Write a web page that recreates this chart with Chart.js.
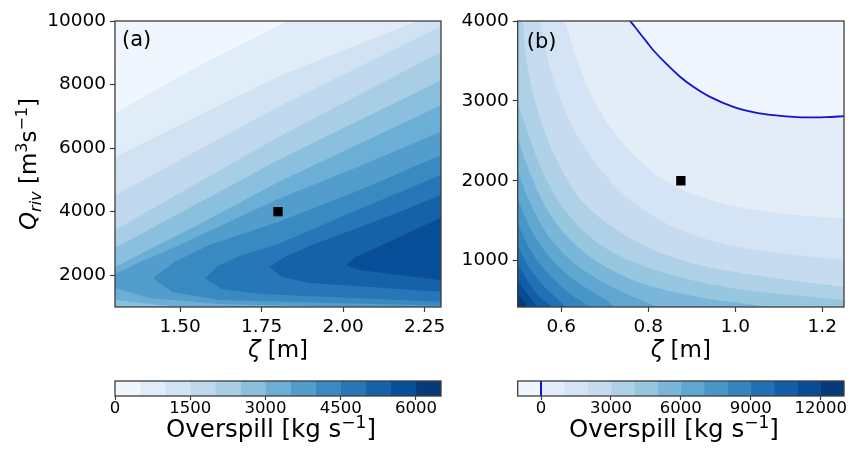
<!DOCTYPE html>
<html>
<head>
<meta charset="utf-8">
<script src="https://cdn.jsdelivr.net/npm/chart.js@4.4.1/dist/chart.umd.min.js"></script>
<style>
  html, body { margin: 0; padding: 0; background: #fff; }
  #wrap { position: relative; width: 857px; height: 455px; overflow: hidden; background: #fff; }
  canvas { position: absolute; }
</style>
</head>
<body>
<div id="wrap">
  <canvas id="plotA" width="450" height="375" style="left:0px;top:0px"></canvas>
  <canvas id="plotB" width="407" height="375" style="left:450px;top:0px"></canvas>
  <canvas id="barA" width="450" height="95" style="left:0px;top:360px"></canvas>
  <canvas id="barB" width="407" height="95" style="left:450px;top:360px"></canvas>
</div>
<script>
// ---- contour levels (kg s^-1) ----
const levelsA = [0, 500, 1000, 1500, 2000, 2500, 3000, 3500, 4000, 4500, 5000, 5500, 6000, 6500];
const levelsB = [-1000, 0, 1000, 2000, 3000, 4000, 5000, 6000, 7000, 8000, 9000, 10000, 11000, 12000, 13000];

// ---- axis ranges and ticks ----
const rangeA = { x: [1.3, 2.3], y: [1000, 10000] };
const rangeB = { x: [0.5, 1.25], y: [420, 4000] };
const xTicksA = [1.5, 1.75, 2.0, 2.25];
const yTicksA = [2000, 4000, 6000, 8000, 10000];
const xTicksB = [0.6, 0.8, 1.0, 1.2];
const yTicksB = [1000, 2000, 3000, 4000];
const cbTicksA = [0, 1500, 3000, 4500, 6000];
const cbTicksB = [0, 3000, 6000, 9000, 12000];

// ---- reference cases ----
const markerA = [1.8, 4000];
const markerB = [0.875, 2000];

// ---- panel (a): outlines of the areas where overspill >= level  [zeta, Q_riv] ----
const regionsA = [
  [500,  [[1.2,6520],[1.3,7100],[1.55,8550],[1.83,10000],[1.93,10600],[2.4,10600],[2.4,800],[1.2,800]]],
  [1000, [[1.2,5210],[1.3,5714],[1.8,8250],[2.3,10300],[2.4,10700],[2.4,800],[1.2,800]]],
  [1500, [[1.2,3960],[1.3,4520],[1.8,7290],[2.3,9833],[2.4,10300],[2.4,800],[1.2,800]]],
  [2000, [[1.2,2830],[1.3,3420],[1.8,6340],[2.3,9025],[2.4,9560],[2.4,800],[1.2,800]]],
  [2500, [[1.2,2300],[1.3,2854],[1.8,5620],[2.3,8136],[2.4,8640],[2.4,800],[1.2,800]]],
  [3000, [[1.2,1720],[1.3,2257],[1.56,3608],[1.8,4929],[2.3,7350],[2.4,7830],[2.4,800],[1.62,800],[1.56,937],[1.468,1031],[1.3,1220],[1.2,1330]]],
  [3500, [[1.26,1820],[1.3,2036],[1.377,2414],[1.484,2886],[1.799,4394],[2.05,5432],[2.298,6510],[2.4,6950],[2.4,900],[2.298,950],[1.621,1093],[1.407,1282],[1.3,1597],[1.26,1700]]],
  [4000, [[1.417,1911],[1.484,2424],[1.591,2959],[1.8,3675],[2.051,4681],[2.298,5777],[2.4,6220],[2.4,1040],[2.298,1046],[1.958,1124],[1.621,1218],[1.475,1470]]],
  [4500, [[1.576,1901],[1.615,2288],[1.683,2602],[1.799,2971],[2.019,3954],[2.298,5149],[2.4,5590],[2.4,1120],[2.298,1165],[1.958,1313],[1.744,1408],[1.628,1565]]],
  [5000, [[1.774,2266],[1.82,2571],[1.897,2917],[2.019,3388],[2.157,3923],[2.298,4520],[2.4,4950],[2.4,1420],[2.298,1480],[2.081,1628],[1.897,1754],[1.811,1942]]],
  [5500, [[2.009,2319],[2.038,2571],[2.087,2791],[2.172,3200],[2.298,3797],[2.4,4200],[2.4,1790],[2.298,1849],[2.172,2006],[2.05,2163]]]
];

// ---- panel (b): contour lines, overspill >= level lies below-left of each  [zeta, Q_riv] ----
const zeroLineB = [[0.7582,4000],[0.7697,3925],[0.7811,3843],[0.7966,3738],[0.8117,3634],[0.8425,3459],[0.8731,3302],[0.9037,3177],[0.9421,3050],[0.9956,2925],[1.0494,2850],[1.0876,2821],[1.1336,2800],[1.172,2793],[1.2103,2796],[1.2501,2809]];
const contoursB = [
  [0,     zeroLineB],
  [1000,  [[0.6034,4170],[0.608,4000],[0.6609,3170],[0.7299,2545],[0.8333,2020],[0.9598,1733],[1.0977,1595],[1.2494,1532],[1.2816,1520]]],
  [2000,  [[0.546,4170],[0.5506,4000],[0.5805,3295],[0.6264,2670],[0.6954,2108],[0.7644,1733],[0.8678,1395],[1.0057,1170],[1.2494,1008],[1.2816,995]]],
  [3000,  [[0.5092,4170],[0.5115,3995],[0.523,3420],[0.5506,2795],[0.592,2233],[0.6494,1733],[0.7184,1420],[0.8218,1108],[0.9598,895],[1.2494,670],[1.2816,658]]],
  [4000,  [[0.4885,3108],[0.5,2982],[0.523,2608],[0.5575,2108],[0.6034,1670],[0.6609,1320],[0.7299,1070],[0.8448,832],[1.0057,645],[1.2494,508],[1.2816,495]]],
  [5000,  [[0.4885,2645],[0.5,2520],[0.5276,2108],[0.5644,1670],[0.6149,1295],[0.6839,982],[0.7759,732],[0.9138,545],[1.0747,420],[1.1437,320]]],
  [6000,  [[0.4885,2245],[0.5,2120],[0.5276,1732],[0.569,1320],[0.6264,982],[0.7069,695],[0.8218,420],[0.8678,320]]],
  [7000,  [[0.4885,1895],[0.5,1770],[0.5276,1420],[0.569,1070],[0.6264,770],[0.7069,495],[0.7414,358]]],
  [8000,  [[0.4885,1595],[0.5,1470],[0.5276,1145],[0.5644,870],[0.6149,608],[0.6655,420],[0.6839,345]]],
  [9000,  [[0.4885,1320],[0.5,1195],[0.523,945],[0.5575,695],[0.5966,495],[0.6195,395]]],
  [10000, [[0.4885,1095],[0.5,970],[0.523,745],[0.5506,545],[0.5805,420],[0.592,370]]],
  [11000, [[0.4885,895],[0.5,770],[0.5184,608],[0.546,420],[0.5552,370]]],
  [12000, [[0.4885,695],[0.5,582],[0.5184,458],[0.523,420],[0.5276,382]]]
];

// ---- styling helpers ----
const FONT = "'DejaVu Sans', 'Liberation Sans', sans-serif";
Chart.defaults.font.family = FONT;
Chart.defaults.color = '#000';
const FRAME = '#3d3d3d';
const ZERO_COLOR = '#1212d2';

// matplotlib "Blues" colour ramp
const BLUES = [[247,251,255],[222,235,247],[198,219,239],[158,202,225],[107,174,214],[66,146,198],[33,113,181],[8,81,156],[8,48,107]];
function blues(t) {
  const p = Math.max(0, Math.min(1, t)) * 8;
  const i = Math.min(7, Math.floor(p));
  const f = p - i, a = BLUES[i], b = BLUES[i + 1];
  const c = a.map((v, j) => Math.round(v + (b[j] - v) * f));
  return `rgb(${c[0]},${c[1]},${c[2]})`;
}
function bandColors(levels) {
  const n = levels.length - 1;
  return levels.slice(0, -1).map((_, k) => blues((k + 0.5) / n));
}
const colorsA = bandColors(levelsA);
const colorsB = bandColors(levelsB);

const toXY = pts => pts.map(([x, y]) => ({ x, y }));

function areaDataset(pts, color, order, tension) {
  return {
    data: toXY(pts), showLine: true, fill: 'shape', tension: tension || 0,
    backgroundColor: color, borderColor: color, borderWidth: 0,
    pointRadius: 0, pointHoverRadius: 0, order
  };
}
function domainBox(r) {
  const dx = (r.x[1] - r.x[0]) * 0.1, dy = (r.y[1] - r.y[0]) * 0.1;
  return [[r.x[0] - dx, r.y[0] - dy], [r.x[1] + dx, r.y[0] - dy], [r.x[1] + dx, r.y[1] + dy], [r.x[0] - dx, r.y[1] + dy]];
}
function markerDataset(p) {
  return {
    data: toXY([p]), showLine: false, pointStyle: 'rect', pointRadius: 6.6,
    pointBackgroundColor: '#000', pointBorderWidth: 0, order: 0
  };
}

// rich text: runs with own size / slant / vertical shift
function drawRich(ctx, parts, x, y, rotate) {
  ctx.save();
  ctx.translate(x, y);
  if (rotate) ctx.rotate(-Math.PI / 2);
  ctx.textBaseline = 'alphabetic';
  ctx.textAlign = 'left';
  ctx.fillStyle = '#000';
  const fontOf = p => `${p.it ? 'italic ' : ''}${p.s}px ${FONT}`;
  let total = 0;
  for (const p of parts) { ctx.font = fontOf(p); p.w = ctx.measureText(p.t).width; total += p.w; }
  let cx = -total / 2;
  for (const p of parts) { ctx.font = fontOf(p); ctx.fillText(p.t, cx, p.dy || 0); cx += p.w; }
  ctx.restore();
}

function frame(ctx, a) {
  ctx.save();
  ctx.strokeStyle = FRAME;
  ctx.lineWidth = 1.3;
  ctx.strokeRect(a.left, a.top, a.right - a.left, a.bottom - a.top);
  ctx.restore();
}

function linearAxis(range, ticks, fmt, isX, fitSize) {
  return {
    type: 'linear', min: range[0], max: range[1],
    afterBuildTicks: s => { s.ticks = ticks.map(v => ({ value: v })); },
    afterFit: s => { if (isX) s.height = fitSize; else s.width = fitSize; },
    ticks: { autoSkip: false, maxRotation: 0, padding: 4, font: { size: 18.5 }, color: '#000', callback: v => fmt(v) },
    grid: { drawOnChartArea: false, drawTicks: true, tickLength: 5, tickColor: FRAME, tickWidth: 1.2 },
    border: { display: false }
  };
}

const xLabel = [{ t: 'ζ', s: 23, it: 1 }, { t: ' [m]', s: 23 }];
const cbLabel = [{ t: 'Overspill [kg s', s: 24.5 }, { t: '−1', s: 17, dy: -9.5 }, { t: ']', s: 24.5 }];
const yLabelA = [
  { t: 'Q', s: 23, it: 1 }, { t: 'riv', s: 16, it: 1, dy: 5 }, { t: ' [m', s: 23 },
  { t: '3', s: 16, dy: -9 }, { t: 's', s: 23 }, { t: '−1', s: 16, dy: -9 }, { t: ']', s: 23 }
];

// ---- panel (a) ----
const dsA = [markerDataset(markerA), areaDataset(domainBox(rangeA), colorsA[0], 200)];
regionsA.forEach(([lev, pts]) => {
  const k = levelsA.indexOf(lev);
  dsA.push(areaDataset(pts, colorsA[k], 100 - k));
});

new Chart(document.getElementById('plotA'), {
  type: 'scatter',
  data: { datasets: dsA },
  options: {
    responsive: false, animation: false, devicePixelRatio: 1,
    layout: { autoPadding: false, padding: { left: 0, top: 21, right: 9, bottom: 0 } },
    plugins: { legend: { display: false }, tooltip: { enabled: false } },
    scales: {
      x: linearAxis(rangeA.x, xTicksA, v => v.toFixed(2), true, 68),
      y: linearAxis(rangeA.y, yTicksA, v => String(v), false, 115)
    }
  },
  plugins: [{
    id: 'decorA',
    afterDraw(chart) {
      const { ctx, chartArea: a } = chart;
      frame(ctx, a);
      ctx.save();
      ctx.font = `21px ${FONT}`; ctx.fillStyle = '#000'; ctx.textBaseline = 'alphabetic';
      ctx.fillText('(a)', a.left + 7, a.top + 25);
      ctx.restore();
      drawRich(ctx, xLabel, (a.left + a.right) / 2, 357, false);
      drawRich(ctx, yLabelA, 36, (a.top + a.bottom) / 2, true);
    }
  }]
});

// ---- panel (b) ----
const dsB = [
  markerDataset(markerB),
  { data: toXY(zeroLineB), showLine: true, fill: false, borderColor: ZERO_COLOR, borderWidth: 1.8,
    pointRadius: 0, pointHoverRadius: 0, tension: 0.3, order: 0 },
  areaDataset(domainBox(rangeB), colorsB[0], 200)
];
const boxB = domainBox(rangeB);
contoursB.forEach(([lev, line]) => {
  const k = levelsB.indexOf(lev);
  const pts = line.concat([boxB[1], boxB[0], boxB[3]]);
  dsB.push(areaDataset(pts, colorsB[k], 100 - k, 0.3));
});

new Chart(document.getElementById('plotB'), {
  type: 'scatter',
  data: { datasets: dsB },
  options: {
    responsive: false, animation: false, devicePixelRatio: 1,
    layout: { autoPadding: false, padding: { left: 0, top: 21, right: 13, bottom: 0 } },
    plugins: { legend: { display: false }, tooltip: { enabled: false } },
    scales: {
      x: linearAxis(rangeB.x, xTicksB, v => v.toFixed(1), true, 68),
      y: linearAxis(rangeB.y, yTicksB, v => String(v), false, 67.7)
    }
  },
  plugins: [{
    id: 'decorB',
    afterDraw(chart) {
      const { ctx, chartArea: a } = chart;
      frame(ctx, a);
      ctx.save();
      ctx.font = `21px ${FONT}`; ctx.fillStyle = '#000'; ctx.textBaseline = 'alphabetic';
      ctx.fillText('(b)', a.left + 9, a.top + 27);
      ctx.restore();
      drawRich(ctx, xLabel, (a.left + a.right) / 2, 357, false);
    }
  }]
});

// ---- colour bars ----
function colorbar(id, levels, colors, ticks, padLeft, padRight, zeroMark) {
  const datasets = colors.map((c, k) => ({
    data: [[levels[k], levels[k + 1]]], backgroundColor: c, borderWidth: 0,
    barPercentage: 1, categoryPercentage: 1, grouped: false
  }));
  new Chart(document.getElementById(id), {
    type: 'bar',
    data: { labels: ['overspill'], datasets },
    options: {
      indexAxis: 'y', responsive: false, animation: false, devicePixelRatio: 1,
      layout: { autoPadding: false, padding: { left: padLeft, top: 21, right: padRight, bottom: 0 } },
      plugins: { legend: { display: false }, tooltip: { enabled: false } },
      scales: {
        x: {
          type: 'linear', min: levels[0], max: levels[levels.length - 1],
          afterBuildTicks: s => { s.ticks = ticks.map(v => ({ value: v })); },
          afterFit: s => { s.height = 59; },
          ticks: { autoSkip: false, maxRotation: 0, padding: 0, font: { size: 16.5, lineHeight: 1 }, color: '#000', callback: v => String(v) },
          grid: { drawOnChartArea: false, drawTicks: true, tickLength: 4, tickColor: FRAME, tickWidth: 1.2 },
          border: { display: false }
        },
        y: { display: false }
      }
    },
    plugins: [{
      id: 'decorCb',
      afterDraw(chart) {
        const { ctx, chartArea: a, scales } = chart;
        if (zeroMark) {
          const px = scales.x.getPixelForValue(0);
          ctx.save();
          ctx.strokeStyle = ZERO_COLOR; ctx.lineWidth = 2;
          ctx.beginPath(); ctx.moveTo(px, a.top); ctx.lineTo(px, a.bottom); ctx.stroke();
          ctx.restore();
        }
        frame(ctx, a);
        drawRich(ctx, cbLabel, (a.left + a.right) / 2 - 7, 77, false);
      }
    }]
  });
}
colorbar('barA', levelsA, colorsA, cbTicksA, 115, 9, false);
colorbar('barB', levelsB, colorsB, cbTicksB, 67.7, 13, true);
</script>
</body>
</html>
